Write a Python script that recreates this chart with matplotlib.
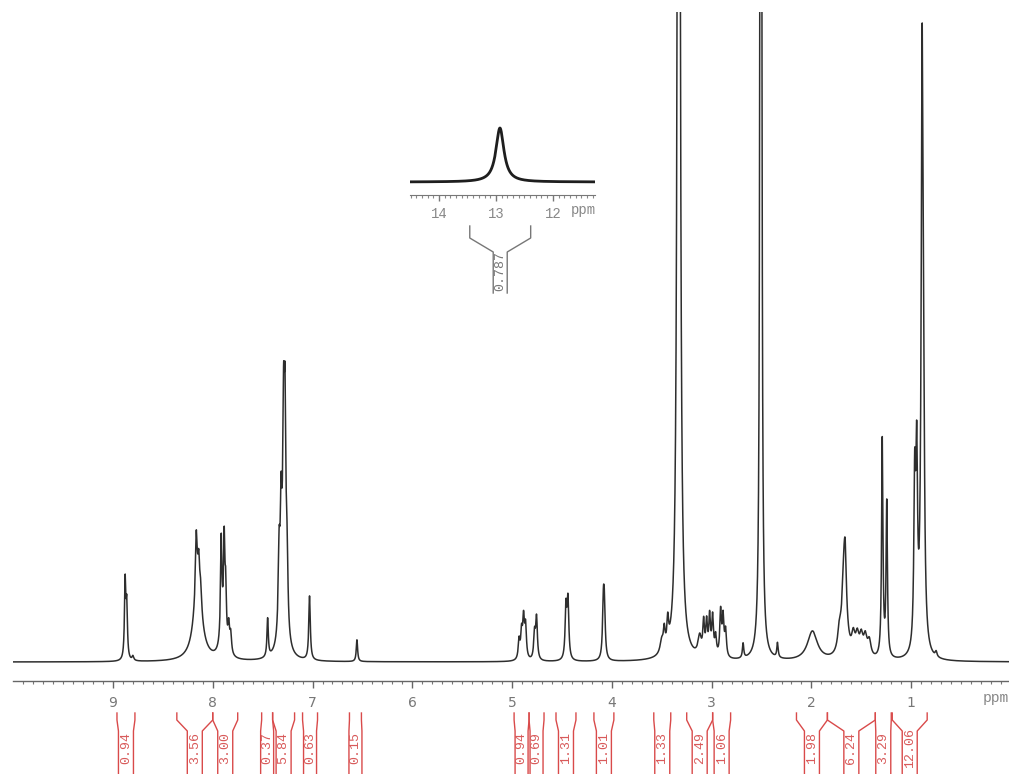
import numpy as np
import matplotlib
matplotlib.use("Agg")
import matplotlib.pyplot as plt
from matplotlib import transforms

# ---------------- data ----------------
# main 1H spectrum: peak centre (ppm), height (rel. units, 100 = top of 0.9 ppm peak), half-width (ppm)
peak_ppm = [8.878, 8.862, 8.80,
            8.15, 8.165, 8.14, 8.12,
            7.915, 7.885, 7.87, 7.84, 7.82, 7.90,
            7.45,
            7.335, 7.315, 7.29, 7.275, 7.255, 7.30,
            7.03, 6.555,
            4.93, 4.905, 4.885, 4.865,
            4.775, 4.755,
            4.46, 4.44,
            4.085, 4.075,
            3.50, 3.475, 3.44,
            3.33,
            3.12, 3.08, 3.05, 3.02, 2.99, 2.96,
            2.91, 2.885, 2.86,
            2.685, 2.507, 2.34,
            1.99,
            1.67, 1.66, 1.72,
            1.58, 1.54, 1.50, 1.46, 1.42,
            1.29, 1.245,
            0.965, 0.945, 0.89, 0.875, 0.75]
peak_height = [12, 8, 0.7,
               11, 9.5, 5, 3,
               15, 14.5, 8, 4, 3, 4,
               6,
               12, 16, 28, 30, 10, 6,
               10, 3.4,
               3, 4, 6, 5,
               4, 6.5,
               8, 9,
               8, 7,
               2, 3, 4,
               400,
               3, 5, 5, 6, 6, 3,
               7, 6, 4,
               2.3, 600, 2.3,
               4.6,
               16, 4, 3,
               3, 3, 3, 3, 2.5,
               34, 24,
               25, 28, 92, 20, 0.8]
peak_width = [0.008, 0.008, 0.01,
              0.05, 0.01, 0.01, 0.01,
              0.008, 0.008, 0.008, 0.01, 0.01, 0.03,
              0.008,
              0.01, 0.01, 0.01, 0.01, 0.01, 0.04,
              0.009, 0.008,
              0.01, 0.01, 0.01, 0.01,
              0.01, 0.01,
              0.01, 0.01,
              0.01, 0.01,
              0.02, 0.01, 0.01,
              0.010,
              0.02, 0.01, 0.01, 0.01, 0.01, 0.01,
              0.01, 0.01, 0.01,
              0.008, 0.005, 0.008,
              0.06,
              0.025, 0.01, 0.02,
              0.02, 0.02, 0.02, 0.02, 0.02,
              0.008, 0.008,
              0.01, 0.01, 0.012, 0.01, 0.01]

# integrals: region (ppm start, ppm end) and value
int_start = [8.96, 8.36, 8.0, 7.51, 7.40, 7.10, 6.63,
             4.98, 4.83, 4.56, 4.18, 3.58, 3.25, 2.99, 2.15, 1.84, 1.36, 1.19]
int_end   = [8.78, 8.0, 7.75, 7.40, 7.18, 6.95, 6.51,
             4.83, 4.68, 4.36, 3.98, 3.41, 2.99, 2.81, 1.84, 1.36, 1.20, 0.84]
int_value = ["0.94", "3.56", "3.00", "0.37", "5.84", "0.63", "0.15",
             "0.94", "0.69", "1.31", "1.01", "1.33", "2.49", "1.06",
             "1.98", "6.24", "3.29", "12.06"]

main_ticks = [1, 2, 3, 4, 5, 6, 7, 8, 9]

# inset (exchangeable proton)
inset_peak_ppm = [12.93]
inset_peak_height = [1.0]
inset_peak_width = [0.085]
inset_int_start = 13.46
inset_int_end = 12.39
inset_int_value = "0.787"
inset_ticks = [12, 13, 14]

# ---------------- figure ----------------
W, H = 1009, 774
fig = plt.figure(figsize=(W / 100, H / 100), dpi=100)
fig.patch.set_facecolor("white")

def fx(px):
    return px / W

def fy(py):
    return 1 - py / H

x_left_ppm, x_right_ppm = 10.0, 0.02
ax_left_px, ax_right_px = 13.2, 1009
top_px, spine_px, base_px = 12, 681, 662
scale = 6.41  # px per unit
ax = fig.add_axes([fx(ax_left_px), fy(spine_px), fx(ax_right_px - ax_left_px),
                   (spine_px - top_px) / H])
ax.set_xlim(x_left_ppm, x_right_ppm)
ax.set_ylim(-(spine_px - base_px) / scale, (base_px - top_px) / scale)

x = np.linspace(0.02, 10.0, 60000)
y = np.zeros_like(x)
for p, h, w in zip(peak_ppm, peak_height, peak_width):
    y += h * w ** 2 / ((x - p) ** 2 + w ** 2)
ax.plot(x, y, color="#2e2e2e", lw=1.1)

for s in ["left", "top", "right"]:
    ax.spines[s].set_visible(False)
ax.spines["bottom"].set_color("#666666")
ax.spines["bottom"].set_linewidth(1.0)
ax.set_yticks([])
ax.set_xticks(main_ticks)
ax.set_xticklabels([str(t) for t in main_ticks])
ax.set_xticks(np.arange(0.1, 10.0, 0.1), minor=True)
ax.tick_params(axis="x", which="major", direction="out", length=5, width=1,
               color="#666666", labelcolor="#777777", labelsize=10, pad=6)
ax.tick_params(axis="x", which="minor", direction="out", length=2.5, width=0.8,
               color="#777777")
fig.text(fx(983), fy(698), "ppm", color="#888888", fontsize=10.5,
         family="Liberation Mono", ha="left", va="center")

# ---------------- integrals (main) ----------------
ppm_per_px = (x_left_ppm - x_right_ppm) / (ax_right_px - ax_left_px)
tr = transforms.blended_transform_factory(ax.transData, fig.transFigure)
red = "#d94a4a"
y_top, y_k1, y_k2, y_bot = 713, 720, 731, 776
for a, b, v in zip(int_start, int_end, int_value):
    mid = (a + b) / 2
    half_outer = abs(a - b) / 2
    half_inner = min(half_outer, 7.5 * ppm_per_px) if half_outer > 7.5 * ppm_per_px else 6.5 * ppm_per_px
    xl_in, xr_in = mid + half_inner, mid - half_inner
    for xo, xi in ((a, xl_in), (b, xr_in)):
        ax.plot([xo, xo, xi, xi], [fy(y_top), fy(y_k1), fy(y_k2), fy(y_bot)],
                transform=tr, color=red, lw=1.0, clip_on=False)
    ax.text(mid, fy(748), v, transform=tr, rotation=90, ha="center", va="center",
            color="#d85a5a", fontsize=9.5, family="Liberation Mono", clip_on=False)

# ---------------- inset ----------------
in_left, in_right, in_top, in_spine, in_base = 410, 595, 115, 195, 182
in_scale = 54.0
ax2 = fig.add_axes([fx(in_left), fy(in_spine), fx(in_right - in_left), (in_spine - in_top) / H])
ax2.set_xlim(14.51, 11.26)
ax2.set_ylim(-(in_spine - in_base) / in_scale, (in_base - in_top) / in_scale)
xi = np.linspace(11.26, 14.51, 4000)
yi = np.zeros_like(xi)
for p, h, w in zip(inset_peak_ppm, inset_peak_height, inset_peak_width):
    yi += h * w ** 2 / ((xi - p) ** 2 + w ** 2)
ax2.plot(xi, yi, color="#1e1e1e", lw=2.0)
ax2.patch.set_alpha(0)
for s in ["left", "top", "right"]:
    ax2.spines[s].set_visible(False)
ax2.spines["bottom"].set_color("#777777")
ax2.set_yticks([])
ax2.set_xticks(inset_ticks)
ax2.set_xticklabels([str(t) for t in inset_ticks])
ax2.set_xticks(np.arange(11.3, 14.51, 0.1), minor=True)
ax2.tick_params(axis="x", which="major", direction="out", length=4, width=1,
                color="#777777", labelcolor="#888888", labelsize=10, pad=5)
ax2.tick_params(axis="x", which="minor", direction="out", length=2, width=0.8,
                color="#888888")
for lab in ax2.get_xticklabels():
    lab.set_family("Liberation Mono")
fig.text(fx(583), fy(210), "ppm", color="#888888", fontsize=10,
         family="Liberation Mono", ha="center", va="center")

tr2 = transforms.blended_transform_factory(ax2.transData, fig.transFigure)
in_ppm_per_px = (14.51 - 11.26) / (in_right - in_left)
mid2 = (inset_int_start + inset_int_end) / 2
hi2 = 7 * in_ppm_per_px
gray = "#777777"
for xo, xin in ((inset_int_start, mid2 + hi2), (inset_int_end, mid2 - hi2)):
    ax2.plot([xo, xo, xin, xin], [fy(226), fy(238), fy(252), fy(293)],
             transform=tr2, color=gray, lw=1.0, clip_on=False)
ax2.text(mid2, fy(271), inset_int_value, transform=tr2, rotation=90, ha="center",
         va="center", color="#777777", fontsize=9.5, family="Liberation Mono",
         clip_on=False)

fig.savefig("out.png", dpi=100, facecolor="white")
